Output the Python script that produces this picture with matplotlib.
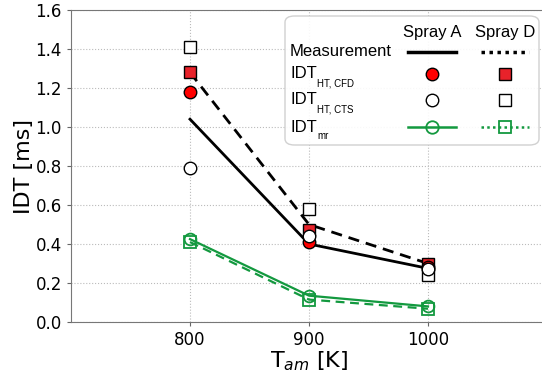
import matplotlib
matplotlib.use("Agg")
import matplotlib.pyplot as plt
from matplotlib.patches import FancyBboxPatch
from matplotlib.lines import Line2D

# data
temps = [800, 900, 1000]
meas_a = [1.04, 0.40, 0.275]
meas_d = [1.28, 0.50, 0.30]
cfd_a = [1.18, 0.41, 0.28]
cfd_d = [1.28, 0.47, 0.30]
cts_a = [0.79, 0.44, 0.27]
cts_d = [1.41, 0.58, 0.24]
mr_a = [0.425, 0.135, 0.08]
mr_d = [0.41, 0.115, 0.068]
xticks = [800, 900, 1000]
yticks = [0.0, 0.2, 0.4, 0.6, 0.8, 1.0, 1.2, 1.4, 1.6]

green = "#13993f"
red_c = "#ff0000"
red_s = "#e8222a"
leg_font = "Liberation Sans"

fig = plt.figure(figsize=(5.42, 3.73), dpi=100)
ax = fig.add_axes([71/542, 51/373, 476/542, 312/373])

ax.plot(temps, meas_a, color="black", lw=2, zorder=2)
ax.plot(temps, meas_d, color="black", lw=2, ls=(0, (4, 2.5)), zorder=2)
ax.plot(temps, mr_a, color=green, lw=1.6, marker="o", ms=8.5, mfc="none", mew=1.3, zorder=3)
ax.plot(temps, mr_d, color=green, lw=1.6, ls=(0, (4, 2.5)), marker="s", ms=8.5, mfc="none", mew=1.3, zorder=3)
ax.plot(temps, cfd_d, ls="none", marker="s", ms=9, mfc=red_s, mec="black", mew=1, zorder=4)
ax.plot(temps, cfd_a, ls="none", marker="o", ms=9, mfc=red_c, mec="black", mew=1, zorder=4)
ax.plot(temps, cts_d, ls="none", marker="s", ms=9, mfc="white", mec="black", mew=1, zorder=4)
ax.plot(temps, cts_a, ls="none", marker="o", ms=9, mfc="white", mec="black", mew=1, zorder=4)

ax.set_xlim(700, 1100)
ax.set_ylim(0, 1.6)
ax.set_xticks(xticks)
ax.set_yticks(yticks)
ax.set_yticklabels(["%.1f" % v for v in yticks])
ax.tick_params(labelsize=12, color="#666666", length=3)
ax.grid(True, ls=":", color="#bbbbbb", lw=0.8)
ax.set_axisbelow(True)
for s in ax.spines.values():
    s.set_color("#777777")
ax.set_xlabel("T$_{am}$ [K]", fontsize=16, labelpad=0)
ax.set_ylabel("IDT [ms]", fontsize=16, labelpad=1)

# table-style legend
W, H = 476.0, 312.0
def fx(px):
    return (px - 71) / W
def fy(py):
    return (322 - py) / H

box = FancyBboxPatch((fx(285), fy(145)), fx(539) - fx(285), fy(16) - fy(145),
                     boxstyle="round,pad=0,rounding_size=0.02", transform=ax.transAxes,
                     fc="white", ec="#cccccc", lw=1, alpha=0.9, zorder=10, clip_on=False)
ax.add_patch(box)

ca, cd, hw = fx(432), fx(505), 24 / W
ax.text(ca, fy(33), "Spray A", transform=ax.transAxes, ha="center", va="center",
        fontsize=12, family=leg_font, zorder=11)
ax.text(cd, fy(33), "Spray D", transform=ax.transAxes, ha="center", va="center",
        fontsize=12, family=leg_font, zorder=11)

rows = [("Measurement", None, 52), ("IDT", "HT, CFD", 74), ("IDT", "HT, CTS", 100), ("IDT", "mr", 127)]
for name, sub, py in rows:
    ax.text(fx(290), fy(py), name, transform=ax.transAxes, ha="left", va="center",
            fontsize=12, family=leg_font, zorder=11)
    if sub:
        ax.text(fx(317), fy(py + 9), sub, transform=ax.transAxes, ha="left", va="center",
                fontsize=7, family=leg_font, zorder=11)

ym, y1, y2, y3 = fy(52), fy(74), fy(100), fy(127)
handles = [
    Line2D([ca - hw, ca + hw], [ym, ym], color="black", lw=2.5),
    Line2D([cd - hw, cd + hw], [ym, ym], color="black", lw=2.5, ls=(0, (1, 1.3))),
    Line2D([ca], [y1], ls="none", marker="o", ms=9, mfc=red_c, mec="black", mew=1),
    Line2D([cd], [y1], ls="none", marker="s", ms=9, mfc=red_s, mec="black", mew=1),
    Line2D([ca], [y2], ls="none", marker="o", ms=9, mfc="white", mec="black", mew=1),
    Line2D([cd], [y2], ls="none", marker="s", ms=9, mfc="white", mec="black", mew=1),
    Line2D([ca - hw, ca, ca + hw], [y3, y3, y3], color=green, lw=1.8, marker="o",
           markevery=[1], ms=9, mfc="none", mew=1.3),
    Line2D([cd - hw, cd, cd + hw], [y3, y3, y3], color=green, lw=1.8, ls=(0, (1, 1.3)),
           marker="s", markevery=[1], ms=9, mfc="none", mew=1.3),
]
for h in handles:
    h.set_transform(ax.transAxes)
    h.set_zorder(11)
    h.set_clip_on(False)
    ax.add_line(h)

fig.savefig("out.png", dpi=100)
plt.close(fig)
